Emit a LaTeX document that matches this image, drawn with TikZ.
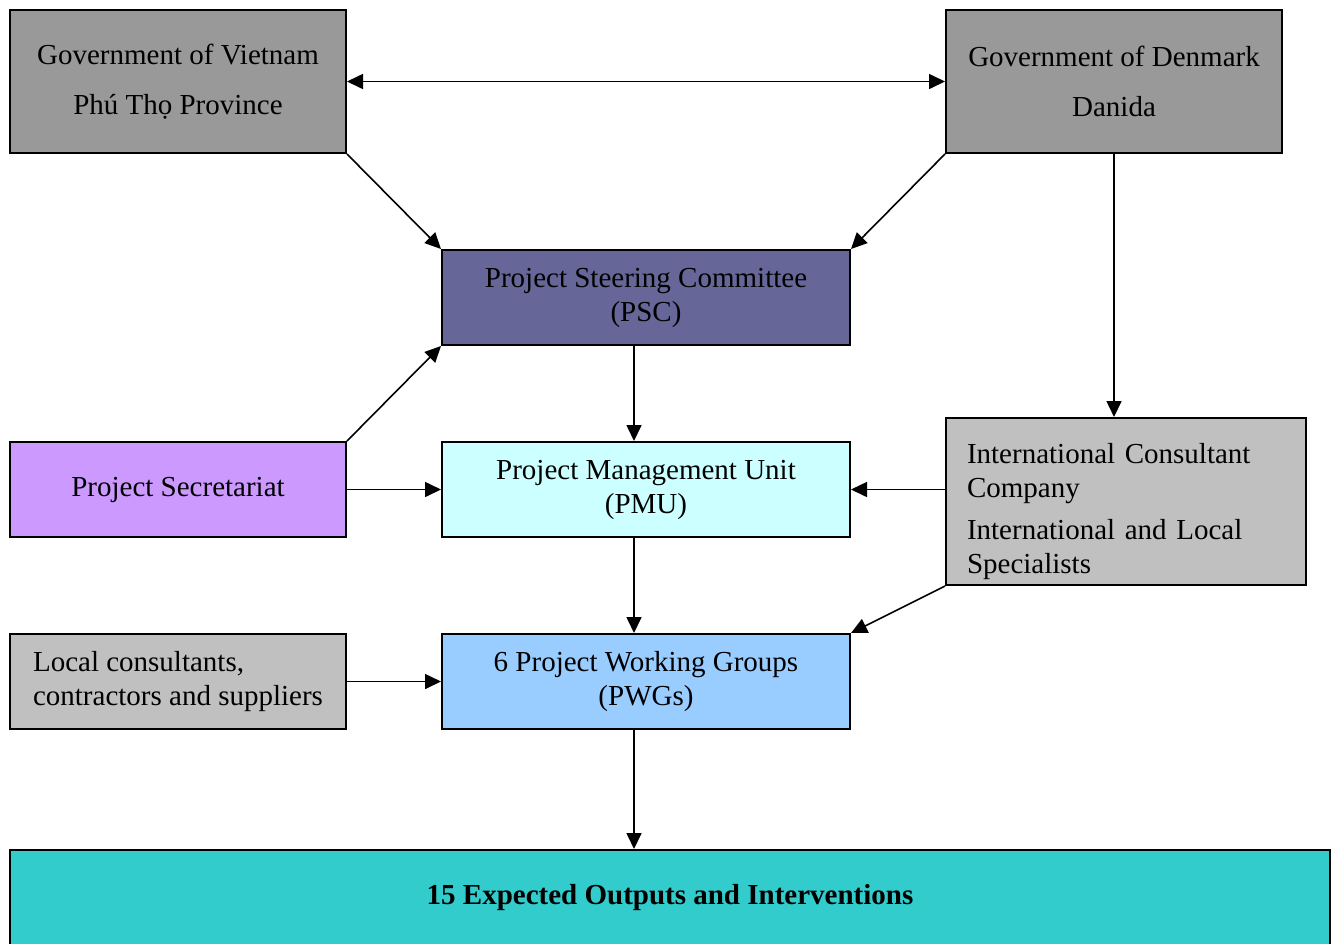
\documentclass[tikz,border=0pt]{standalone}
\usepackage{fontspec}
\setmainfont{Liberation Serif}
\usetikzlibrary{arrows.meta}
\definecolor{govgray}{HTML}{999999}
\definecolor{pscblue}{HTML}{666699}
\definecolor{secviolet}{HTML}{CC99FF}
\definecolor{pmucyan}{HTML}{CCFFFF}
\definecolor{consgray}{HTML}{C0C0C0}
\definecolor{pwgblue}{HTML}{99CCFF}
\definecolor{outteal}{HTML}{33CCCC}
\tikzset{
        box/.style={draw=black, line width=1pt, inner sep=0pt, align=center,
                font=\fontsize{14.5}{17}\selectfont},
        % Governments
        box_gov/.style={box, fill=govgray, minimum width=168pt, minimum height=71.5pt},
        % Project bodies in the middle column
        box_mid/.style={box, minimum width=204pt, minimum height=47.5pt},
        % Side boxes
        box_side/.style={box, minimum width=168pt, minimum height=47.5pt},
        % Left aligned text
        box_left/.style={box, align=left, inner xsep=10.5pt},
        link/.style={line width=0.8pt, -{Triangle[length=8pt,width=7.5pt]}}
}
\begin{document}
\begin{tikzpicture}[x=0.5pt, y=-0.5pt]
    \useasboundingbox (0,0) rectangle (1336,943);
    \node[box_gov] (gov_vn) at (178,81.5) {Government of Vietnam\\[8pt]Phú Thọ Province};
    \node[box_gov] (gov_dk) at (1114,81.5) {Government of Denmark\\[8pt]Danida};
    \node[box_mid, fill=pscblue] (psc) at (646,297.5) {Project Steering Committee\\(PSC)};
    \node[box_side, fill=secviolet] (sec) at (178,489.5) {Project Secretariat};
    \node[box_mid, fill=pmucyan] (pmu) at (646,489.5) {Project Management Unit\\(PMU)};
    \node[box_left, fill=consgray, minimum width=180pt, minimum height=83.5pt, text width=159pt]
        (cons) at (1126,501.5) {\rule{0pt}{20pt}International Consultant\\Company\\[4pt]International and Local\\Specialists};
    \node[box_side, align=left, fill=consgray]
        (local) at (178,681.5) {Local consultants,\\contractors and suppliers};
    \node[box_mid, fill=pwgblue] (pwg) at (646,681.5) {6 Project Working Groups\\(PWGs)};
    \node[box, fill=outteal, minimum width=660pt, minimum height=48pt, font=\fontsize{14.5}{17}\selectfont\bfseries]
        (outputs) at (670,898) {15 Expected Outputs and Interventions};
    \coordinate (spine) at (634,0);

    \draw[link, {Triangle[length=8pt,width=7.5pt]}-{Triangle[length=8pt,width=7.5pt]}] (gov_vn) -- (gov_dk);
    \draw[link] (gov_vn.south east) -- (psc.north west);
    \draw[link] (gov_dk.south west) -- (psc.north east);
    \draw[link] (gov_dk.south) -- (gov_dk.south |- cons.north);
    \draw[link] (psc.south -| spine) -- (pmu.north -| spine);
    \draw[link] (sec.north east) -- (psc.south west);
    \draw[link] (sec) -- (pmu);
    \draw[link] (cons.west |- pmu.east) -- (pmu.east);
    \draw[link] (cons.south west) -- (pwg.north east);
    \draw[link] (pmu.south -| spine) -- (pwg.north -| spine);
    \draw[link] (local) -- (pwg);
    \draw[link] (pwg.south -| spine) -- (outputs.north -| spine);
\end{tikzpicture}
\end{document}
